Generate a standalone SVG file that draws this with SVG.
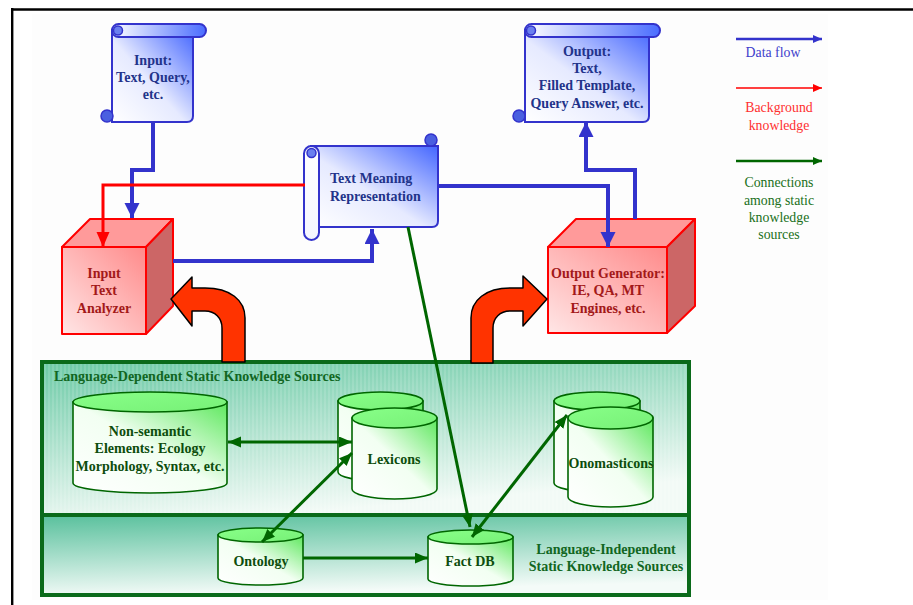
<svg xmlns="http://www.w3.org/2000/svg" width="913" height="605" viewBox="0 0 913 605">
<style>
.t{font-family:"Liberation Serif","Times New Roman",serif;font-size:14px;font-weight:bold;text-anchor:middle}
.ts{text-anchor:start}
.sc{fill:#22338a}
.cu{fill:#a31919}
.cy{fill:#0d4d0d}
.pt{font-family:"Liberation Serif","Times New Roman",serif;font-size:14px;font-weight:bold;fill:#116622}
.ptm{text-anchor:middle}
.lg{font-family:"Liberation Serif","Times New Roman",serif;font-size:13.8px;text-anchor:middle}
.blue{fill:none;stroke:#3333cc;stroke-width:4}
.red{fill:none;stroke:#ff0000;stroke-width:3}
.grn{fill:none;stroke:#006600;stroke-width:3}
.scroll{stroke:#3333cc;stroke-width:2}
.cube{stroke:#ff0000;stroke-width:2;stroke-linejoin:round}
.cyl{stroke:#006600;stroke-width:1.6}
.big{fill:#ff3300;stroke:#000;stroke-width:1.5;stroke-linejoin:round}
</style>
<defs>
<linearGradient id="gScroll" x1="0" y1="1" x2="1" y2="0">
<stop offset="0" stop-color="#ffffff"/><stop offset="0.45" stop-color="#e6eaff"/><stop offset="1" stop-color="#4466ff"/>
</linearGradient>
<linearGradient id="gRoll" x1="0" y1="0" x2="1" y2="0">
<stop offset="0" stop-color="#ffffff"/><stop offset="1" stop-color="#4a6cff"/>
</linearGradient>
<linearGradient id="gRollV" x1="0" y1="0" x2="0" y2="1">
<stop offset="0" stop-color="#ffffff"/><stop offset="1" stop-color="#f4f6ff"/>
</linearGradient>
<linearGradient id="gFront" x1="0" y1="1" x2="1" y2="0">
<stop offset="0" stop-color="#ffe6e6"/><stop offset="1" stop-color="#ff8a8a"/>
</linearGradient>
<linearGradient id="gCylB" x1="0" y1="1" x2="1" y2="0">
<stop offset="0" stop-color="#ffffff"/><stop offset="0.5" stop-color="#f2fff2"/><stop offset="1" stop-color="#5de85d"/>
</linearGradient>
<linearGradient id="gCylT" x1="0" y1="0" x2="1" y2="1">
<stop offset="0" stop-color="#88ff88"/><stop offset="1" stop-color="#77f077"/>
</linearGradient>
<linearGradient id="gUp" x1="0" y1="0" x2="0.35" y2="1">
<stop offset="0" stop-color="#6ccaa6"/><stop offset="1" stop-color="#f2faf6"/>
</linearGradient>
<linearGradient id="gLow" x1="0" y1="0" x2="0.2" y2="1">
<stop offset="0" stop-color="#58c09c"/><stop offset="1" stop-color="#f4fbf8"/>
</linearGradient>
<pattern id="stripes" width="4" height="10" patternUnits="userSpaceOnUse">
<rect x="0" y="0" width="2" height="10" fill="#ffffff" opacity="0.12"/>
</pattern>
<marker id="mB" markerUnits="userSpaceOnUse" markerWidth="16" markerHeight="16" refX="15" refY="7.5" orient="auto">
<path d="M0,0 L15,7.5 L0,15 z" fill="#3333cc"/>
</marker>
<marker id="mR" markerUnits="userSpaceOnUse" markerWidth="16" markerHeight="16" refX="15" refY="6.5" orient="auto">
<path d="M0,0 L15,6.5 L0,13 z" fill="#ff0000"/>
</marker>
<marker id="mG" markerUnits="userSpaceOnUse" markerWidth="14" markerHeight="14" refX="13" refY="5.5" orient="auto-start-reverse">
<path d="M0,0 L13,5.5 L0,11 z" fill="#006600"/>
</marker>
<marker id="lB" markerUnits="userSpaceOnUse" markerWidth="10" markerHeight="10" refX="9" refY="4" orient="auto">
<path d="M0,0 L9,4 L0,8 z" fill="#3333cc"/>
</marker>
<marker id="lR" markerUnits="userSpaceOnUse" markerWidth="10" markerHeight="10" refX="9" refY="4" orient="auto">
<path d="M0,0 L9,4 L0,8 z" fill="#ff0000"/>
</marker>
<marker id="lG" markerUnits="userSpaceOnUse" markerWidth="10" markerHeight="10" refX="9" refY="4" orient="auto">
<path d="M0,0 L9,4 L0,8 z" fill="#006600"/>
</marker>
</defs>

<rect x="0" y="0" width="913" height="605" fill="#ffffff"/>
<rect x="32" y="14" width="796" height="586" fill="#fdfdfd"/>
<g id="frame">
<line x1="11" y1="9.5" x2="913" y2="9.5" stroke="#000" stroke-width="2.6"/>
<line x1="12.2" y1="8" x2="12.2" y2="605" stroke="#000" stroke-width="2.4"/>
</g>

<g id="panel">
<rect x="42" y="362" width="647" height="153" fill="url(#gUp)"/>
<rect x="42" y="362" width="647" height="153" fill="url(#stripes)"/>
<rect x="42" y="515" width="647" height="80" fill="url(#gLow)"/>
<rect x="42" y="362" width="647" height="233" fill="none" stroke="#0a6a1a" stroke-width="4"/>
<line x1="42" y1="515" x2="689" y2="515" stroke="#0a6a1a" stroke-width="4"/>
<text class="pt" x="54" y="381">Language-Dependent Static Knowledge Sources</text>
<text class="pt ptm" x="606" y="554">Language-Independent</text>
<text class="pt ptm" x="606" y="571">Static Knowledge Sources</text>
</g>

<g id="input">
<path class="scroll" fill="url(#gScroll)" d="M112,30 L112,122 L187,122 Q193,122 193,116 L193,37 Z"/>
<rect class="scroll" x="112" y="24" width="94" height="13" rx="6.5" fill="url(#gRoll)"/>
<circle cx="118" cy="30.5" r="4.5" fill="#6a7fef" stroke="#3333cc" stroke-width="1.5"/>
<circle cx="107" cy="116" r="6" fill="#4a5fe0" stroke="#3333cc" stroke-width="1.5"/>
<text class="t sc" x="153" y="65">Input:</text>
<text class="t sc" x="153" y="82">Text, Query,</text>
<text class="t sc" x="153" y="99">etc.</text>
</g>

<g id="output">
<path class="scroll" fill="url(#gScroll)" d="M525,30 L525,122 L643,122 Q649,122 649,116 L649,37 Z"/>
<rect class="scroll" x="525" y="24" width="135" height="13" rx="6.5" fill="url(#gRoll)"/>
<circle cx="531" cy="30.5" r="4.5" fill="#6a7fef" stroke="#3333cc" stroke-width="1.5"/>
<circle cx="519" cy="116" r="6" fill="#4a5fe0" stroke="#3333cc" stroke-width="1.5"/>
<text class="t sc" x="587" y="56">Output:</text>
<text class="t sc" x="587" y="73">Text,</text>
<text class="t sc" x="587" y="90">Filled Template,</text>
<text class="t sc" x="587" y="108">Query Answer, etc.</text>
</g>

<g id="tmr">
<path class="scroll" fill="url(#gScroll)" d="M311,146 L438,146 L438,221 Q438,227 432,227 L311,227 Z"/>
<rect class="scroll" x="304" y="146" width="15" height="94" rx="7.5" fill="url(#gRollV)"/>
<circle cx="311.5" cy="153" r="4.5" fill="#6a7fef" stroke="#3333cc" stroke-width="1.5"/>
<circle cx="431" cy="140" r="6" fill="#4a5fe0" stroke="#3333cc" stroke-width="1.5"/>
<text class="t sc ts" x="330" y="183">Text Meaning</text>
<text class="t sc ts" x="330" y="201">Representation</text>
</g>

<g id="analyzer">
<rect class="cube" x="62" y="247" width="84" height="87" fill="url(#gFront)"/>
<polygon class="cube" points="62,247 90,219 173,219 146,247" fill="#ff9a9a"/>
<polygon class="cube" points="146,247 173,219 173,306 146,334" fill="#cc6666"/>
<text class="t cu" x="104" y="278">Input</text>
<text class="t cu" x="104" y="295">Text</text>
<text class="t cu" x="104" y="313">Analyzer</text>
</g>

<g id="generator">
<rect class="cube" x="548" y="247" width="119" height="86" fill="url(#gFront)"/>
<polygon class="cube" points="548,247 576,219 695,219 667,247" fill="#ff9a9a"/>
<polygon class="cube" points="667,247 695,219 695,306 667,333" fill="#cc6666"/>
<text class="t cu" x="608" y="278">Output Generator:</text>
<text class="t cu" x="608" y="295">IE, QA, MT</text>
<text class="t cu" x="608" y="313">Engines, etc.</text>
</g>

<g id="nonsemantic">
<path class="cyl" fill="url(#gCylB)" d="M73,402 L73,483 A77,10 0 0 0 227,483 L227,402 Z"/>
<ellipse class="cyl" cx="150" cy="402" rx="77" ry="10" fill="url(#gCylT)"/>
<text class="t cy" x="150" y="436">Non-semantic</text>
<text class="t cy" x="150" y="453">Elements: Ecology</text>
<text class="t cy" x="150" y="471">Morphology, Syntax, etc.</text>
</g>

<g id="lexicons">
<path class="cyl" fill="url(#gCylB)" d="M338,401 L338,472 A42.5,9 0 0 0 423,472 L423,401 Z"/>
<ellipse class="cyl" cx="380.5" cy="401" rx="42.5" ry="9" fill="url(#gCylT)"/>
<path class="cyl" fill="url(#gCylB)" d="M352,418 L352,489 A42.5,10 0 0 0 437,489 L437,418 Z"/>
<ellipse class="cyl" cx="394.5" cy="418" rx="42.5" ry="10" fill="url(#gCylT)"/>
<text class="t cy" x="394" y="464">Lexicons</text>
</g>

<g id="onomasticons">
<path class="cyl" fill="url(#gCylB)" d="M554,401 L554,483 A43,9 0 0 0 640,483 L640,401 Z"/>
<ellipse class="cyl" cx="597" cy="401" rx="43" ry="9" fill="url(#gCylT)"/>
<path class="cyl" fill="url(#gCylB)" d="M568,418 L568,497 A42.5,10 0 0 0 653,497 L653,418 Z"/>
<ellipse class="cyl" cx="610.5" cy="418" rx="42.5" ry="11" fill="url(#gCylT)"/>
<text class="t cy" x="611" y="468">Onomasticons</text>
</g>

<g id="ontology">
<path class="cyl" fill="url(#gCylB)" d="M218,535 L218,578 A42.5,7 0 0 0 303,578 L303,535 Z"/>
<ellipse class="cyl" cx="260.5" cy="535" rx="42.5" ry="7" fill="url(#gCylT)"/>
<text class="t cy" x="261" y="566">Ontology</text>
</g>

<g id="factdb">
<path class="cyl" fill="url(#gCylB)" d="M428,537 L428,579 A42.5,7 0 0 0 513,579 L513,537 Z"/>
<ellipse class="cyl" cx="470.5" cy="537" rx="42.5" ry="7" fill="url(#gCylT)"/>
<text class="t cy" x="470" y="566">Fact DB</text>
</g>

<g id="bigarrows">
<path class="big" d="M222,362 L222,328 C222,318 215,311 205,311 L192,311 L192,326 L171,299 L192,277 L192,288 L205,288 C230,288 245,300 245,318 L245,362 Z"/>
<path class="big" d="M471,363 L471,318 C471,300 486,288 510,288 L523,288 L523,276 L547,299 L523,326 L523,311 L510,311 C500,311 493,318 493,328 L493,363 Z"/>
</g>

<g id="connectors">
<path class="blue" d="M153,122 L153,170 L132,170 L132,218" marker-end="url(#mB)"/>
<path class="blue" d="M173,261 L372,261 L372,229" marker-end="url(#mB)"/>
<path class="blue" d="M438,186 L608,186 L608,247" marker-end="url(#mB)"/>
<path class="blue" d="M635,219 L635,170 L586,170 L586,122" marker-end="url(#mB)"/>
<path class="red" d="M305,185 L103,185 L103,247" marker-end="url(#mR)"/>
<path class="grn" d="M228,442 L352,442" marker-start="url(#mG)" marker-end="url(#mG)"/>
<path class="grn" d="M262,542 L352,453" marker-start="url(#mG)" marker-end="url(#mG)"/>
<path class="grn" d="M303,558 L428,558" marker-end="url(#mG)"/>
<path class="grn" d="M408,227 L470,527" marker-end="url(#mG)"/>
<path class="grn" d="M472,537 L567,415" marker-start="url(#mG)" marker-end="url(#mG)"/>
</g>

<g id="legend">
<line x1="736" y1="39" x2="822" y2="39" stroke="#3333cc" stroke-width="2.5" marker-end="url(#lB)"/>
<text class="lg" x="773" y="57" fill="#4040cc">Data flow</text>
<line x1="736" y1="88" x2="822" y2="88" stroke="#ff0000" stroke-width="1.5" marker-end="url(#lR)"/>
<text class="lg" x="779" y="112" fill="#ff3030">Background</text>
<text class="lg" x="779" y="130" fill="#ff3030">knowledge</text>
<line x1="736" y1="161" x2="822" y2="161" stroke="#006600" stroke-width="2.5" marker-end="url(#lG)"/>
<text class="lg" x="779" y="187" fill="#207020">Connections</text>
<text class="lg" x="779" y="205" fill="#207020">among static</text>
<text class="lg" x="779" y="222" fill="#207020">knowledge</text>
<text class="lg" x="779" y="239" fill="#207020">sources</text>
</g>
</svg>
